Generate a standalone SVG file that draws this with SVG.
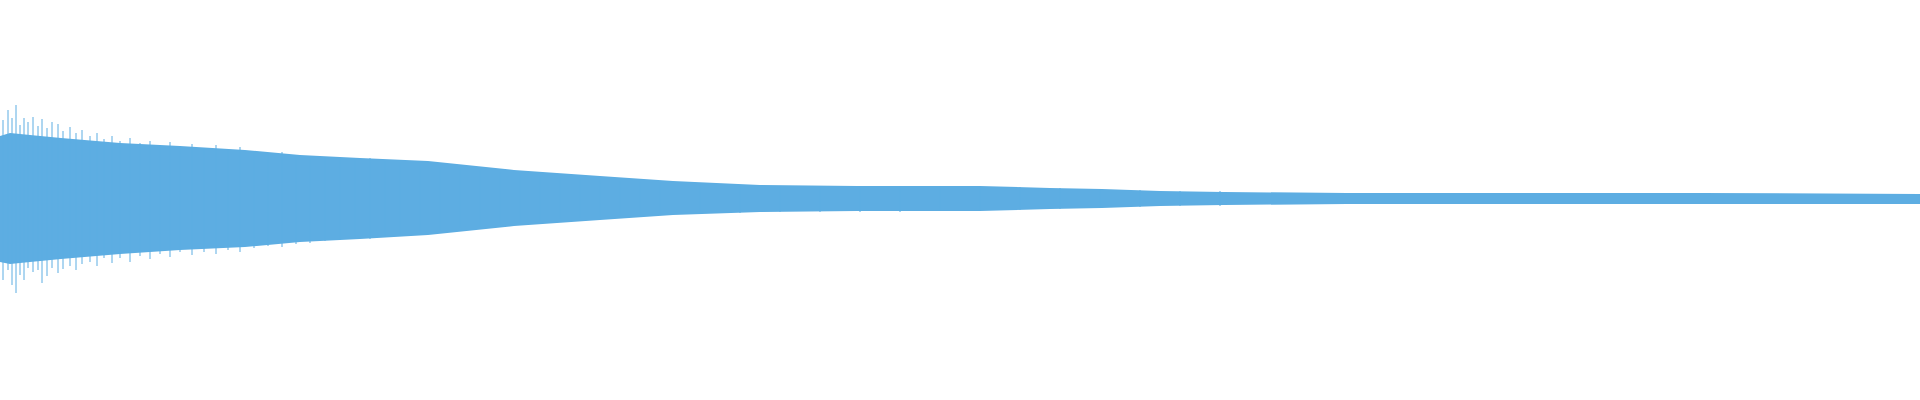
<svg xmlns="http://www.w3.org/2000/svg" width="1920" height="400" viewBox="0 0 1920 400">
<style>.w{fill:#5dade2}.s{stroke:#5dade2;stroke-width:1;fill:none}</style>
<rect width="1920" height="400" fill="#fff"/>
<path class="w" d="M0 136 L10 133 L30 135 L61 138 L120 143 L180 146 L245 150 L300 155 L360 158 L428 161 L514 170 L600 176 L673 181 L760 185 L857 186 L980 186 L1050 188 L1102 189 L1160 191 L1224 192 L1347 193 L1500 193 L1700 193 L1920 194 L1920 204 L1700 204 L1500 204 L1347 204 L1224 205 L1160 206 L1102 208 L1050 209 L980 211 L857 211 L760 212 L673 215 L600 220 L514 226 L428 235 L360 239 L300 242 L245 247 L180 250 L120 254 L61 259 L30 262 L10 264 L0 262 Z"/>
<path class="s" d="M3 120V280 M8 110V270 M12 118V285 M16 105V293 M20 125V275 M24 118V280 M28 122V268 M33 117V272 M38 126V270 M42 119V283 M47 128V276 M52 122V268 M58 124V273 M63 131V269 M70 127V266 M76 133V270 M82 130V264 M90 136V262 M97 133V266 M104 139V258 M112 136V263 M120 141V258 M130 138V262 M140 143V256 M150 141V259 M160 145V254 M170 142V257 M180 146V252 M192 144V255 M204 148V252 M216 145V254 M228 149V250 M240 147V252 M254 151V248 M268 153V246 M282 152V247 M296 156V244 M310 157V243 M325 157V241 M340 159V240 M355 160V238 M370 158V239 M385 161V237 M400 163V235 M420 165V232 M440 167V230 M460 168V228 M480 170V227 M500 172V225 M520 174V223 M540 175V221 M560 177V219 M580 179V218 M600 180V217 M620 181V216 M640 182V215 M660 183V214 M700 185V213 M740 186V213 M780 186V212 M820 187V212 M860 186V212 M900 186V212 M940 186V211 M980 187V211 M1020 187V210 M1060 188V209 M1100 189V208 M1140 190V207 M1180 191V206 M1220 191V206"/>
</svg>
